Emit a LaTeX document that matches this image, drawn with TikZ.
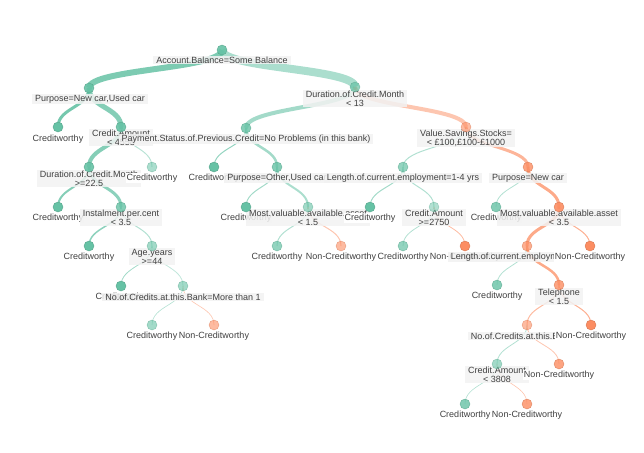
\documentclass[tikz,border=0pt]{standalone}
\usepackage{fontspec}
\setmainfont{Liberation Sans}
\usetikzlibrary{calc,backgrounds}
\definecolor{cwgreen}{HTML}{66C2A5}
\definecolor{ncorange}{HTML}{FC8D62}

\begin{document}
\begin{tikzpicture}[x=1pt,y=-1pt,
  punkt/.style={circle,minimum size=10pt,inner sep=0pt},
  ja/.style={punkt,fill=cwgreen,draw=cwgreen!85!black,line width=.4pt},
  nein/.style={punkt,fill=ncorange,draw=ncorange!85!black,line width=.4pt},
  frage/.style={fill=black!5,fill opacity=.85,text opacity=1,inner xsep=3pt,inner ysep=1pt,align=center,text=black!75,font=\fontsize{9}{9}\selectfont},
  blatt/.style={fill=white,inner xsep=1pt,inner ysep=1pt,text=black!75,font=\fontsize{9}{9}\selectfont},
  ast/.style={line cap=butt,to path={.. controls ($(\tikztostart)!.5!(\tikztostart|-\tikztotarget)$) and ($(\tikztotarget)!.5!(\tikztotarget|-\tikztostart)$) .. (\tikztotarget)}},
  gk/.style={ast,draw=cwgreen},
  ok/.style={ast,draw=ncorange}]
\useasboundingbox (0,0) rectangle (644,452);
% labels, left to right, level by level
\node [frage] (root-t) at (222,60) {Account.Balance=Some Balance};
\node [frage] (purp-t) at (90,99) {Purpose=New car,Used car};
\node [frage] (dur-t) at (355,98.5) {Duration.of.Credit.Month\\< 13};
\node [blatt] (l1-t) at (58,139) {Creditworthy};
\node [frage] (camt-t) at (121,137.5) {Credit.Amount\\< 4558};
\node [frage] (pay-t) at (246,139) {Payment.Status.of.Previous.Credit=No Problems (in this bank)};
\node [frage] (sav-t) at (466,138) {Value.Savings.Stocks=\\< £100,£100-£1000};
\node [frage] (dur2-t) at (89,178.5) {Duration.of.Credit.Month\\>=22.5};
\node [blatt] (l2-t) at (152,178) {Creditworthy};
\node [blatt] (l3-t) at (214,178) {Creditworthy};
\node [frage] (purpo-t) at (277,178) {Purpose=Other,Used car};
\node [frage] (len-t) at (403,178) {Length.of.current.employment=1-4 yrs};
\node [frage] (purpn-t) at (528,178) {Purpose=New car};
\node [blatt] (l4-t) at (58,218) {Creditworthy};
\node [frage] (inst-t) at (121,217.5) {Instalment.per.cent\\< 3.5};
\node [blatt] (l5-t) at (246,218) {Creditworthy};
\node [frage] (mva-t) at (308,217.5) {Most.valuable.available.asset\\< 1.5};
\node [blatt] (l6-t) at (370,218) {Creditworthy};
\node [frage] (camt2-t) at (434,217.5) {Credit.Amount\\>=2750};
\node [blatt] (l7-t) at (496,218) {Creditworthy};
\node [frage] (mvb-t) at (559,217.5) {Most.valuable.available.asset\\< 3.5};
\node [blatt] (l8-t) at (89,257) {Creditworthy};
\node [frage] (age-t) at (152,256.5) {Age.years\\>=44};
\node [blatt] (l9-t) at (277,257) {Creditworthy};
\node [blatt] (l10-t) at (341,257) {Non-Creditworthy};
\node [blatt] (l11-t) at (403,257) {Creditworthy};
\node [blatt] (l12-t) at (465,257) {Non-Creditworthy};
\node [frage] (len2-t) at (527,257) {Length.of.current.employment=1-4 yrs};
\node [blatt] (l13-t) at (590,257) {Non-Creditworthy};
\node [blatt] (l14-t) at (121,297) {Creditworthy};
\node [frage] (cred-t) at (183,297) {No.of.Credits.at.this.Bank=More than 1};
\node [blatt] (l15-t) at (497,296) {Creditworthy};
\node [frage] (tel-t) at (559,296.5) {Telephone\\< 1.5};
\node [blatt] (l16-t) at (152,336) {Creditworthy};
\node [blatt] (l17-t) at (214,336) {Non-Creditworthy};
\node [frage] (cred2-t) at (527,336) {No.of.Credits.at.this.Bank=1};
\node [blatt] (l18-t) at (591,336) {Non-Creditworthy};
\node [frage] (camt3-t) at (497,374.5) {Credit.Amount\\< 3808};
\node [blatt] (l19-t) at (559,375) {Non-Creditworthy};
\node [blatt] (l20-t) at (465,415) {Creditworthy};
\node [blatt] (l21-t) at (527,415) {Non-Creditworthy};
% nodes
\node [ja,opacity=.9] (root) at (222,50) {};
\node [ja,opacity=.9] (purp) at (89,88) {};
\node [ja,opacity=.7] (dur) at (355,87) {};
\node [ja] (l1) at (58,127) {};
\node [ja,opacity=.9] (camt) at (121,127) {};
\node [ja,opacity=.8] (pay) at (246,128) {};
\node [nein,opacity=.6] (sav) at (466,127) {};
\node [ja,opacity=.9] (dur2) at (89,167) {};
\node [ja,opacity=.55] (l2) at (152,167) {};
\node [ja] (l3) at (214,167) {};
\node [ja,opacity=.8] (purpo) at (277,167) {};
\node [ja,opacity=.7] (len) at (403,167) {};
\node [nein,opacity=.8] (purpn) at (528,167) {};
\node [ja] (l4) at (58,207) {};
\node [ja,opacity=.8] (inst) at (121,207) {};
\node [ja] (l5) at (246,207) {};
\node [ja,opacity=.6] (mva) at (308,207) {};
\node [ja] (l6) at (370,207) {};
\node [ja,opacity=.5] (camt2) at (434,207) {};
\node [ja,opacity=.8] (l7) at (496,207) {};
\node [nein,opacity=.9] (mvb) at (559,207) {};
\node [ja] (l8) at (89,246) {};
\node [ja,opacity=.6] (age) at (152,246) {};
\node [ja,opacity=.7] (l9) at (277,246) {};
\node [nein,opacity=.6] (l10) at (341,246) {};
\node [ja,opacity=.7] (l11) at (403,246) {};
\node [nein] (l12) at (465,246) {};
\node [nein,opacity=.7] (len2) at (527,246) {};
\node [nein] (l13) at (590,246) {};
\node [ja] (l14) at (121,286) {};
\node [ja,opacity=.6] (cred) at (183,286) {};
\node [ja,opacity=.8] (l15) at (497,285) {};
\node [nein,opacity=.8] (tel) at (559,285) {};
\node [ja,opacity=.6] (l16) at (152,325) {};
\node [nein,opacity=.6] (l17) at (214,325) {};
\node [nein,opacity=.6] (cred2) at (527,325) {};
\node [nein] (l18) at (591,325) {};
\node [ja,opacity=.6] (camt3) at (497,364) {};
\node [nein,opacity=.8] (l19) at (559,364) {};
\node [ja,opacity=.8] (l20) at (465,404) {};
\node [nein,opacity=.8] (l21) at (527,404) {};
% branches
\begin{pgfonlayer}{background}
\draw [gk,line width=6pt,draw opacity=.85] (root.center) to (purp.center);
\draw [gk,line width=8pt,draw opacity=.55] (root.center) to (dur.center);
\draw [gk,line width=3pt,draw opacity=.9] (purp.center) to (l1.center);
\draw [gk,line width=5pt,draw opacity=.8] (purp.center) to (camt.center);
\draw [gk,line width=4pt,draw opacity=.6] (dur.center) to (pay.center);
\draw [ok,line width=4pt,draw opacity=.5] (dur.center) to (sav.center);
\draw [gk,line width=4pt,draw opacity=.8] (camt.center) to (dur2.center);
\draw [gk,line width=1pt,draw opacity=.45] (camt.center) to (l2.center);
\draw [gk,line width=1pt,draw opacity=.7] (pay.center) to (l3.center);
\draw [gk,line width=2.5pt,draw opacity=.6] (pay.center) to (purpo.center);
\draw [gk,line width=1pt,draw opacity=.5] (sav.center) to (len.center);
\draw [ok,line width=3pt,draw opacity=.65] (sav.center) to (purpn.center);
\draw [gk,line width=2pt,draw opacity=.8] (dur2.center) to (l4.center);
\draw [gk,line width=3pt,draw opacity=.75] (dur2.center) to (inst.center);
\draw [gk,line width=1pt,draw opacity=.6] (purpo.center) to (l5.center);
\draw [gk,line width=2pt,draw opacity=.55] (purpo.center) to (mva.center);
\draw [gk,line width=1pt,draw opacity=.6] (len.center) to (l6.center);
\draw [gk,line width=1pt,draw opacity=.5] (len.center) to (camt2.center);
\draw [gk,line width=.8pt,draw opacity=.5] (purpn.center) to (l7.center);
\draw [ok,line width=3pt,draw opacity=.75] (purpn.center) to (mvb.center);
\draw [gk,line width=1.5pt,draw opacity=.75] (inst.center) to (l8.center);
\draw [gk,line width=1pt,draw opacity=.5] (inst.center) to (age.center);
\draw [gk,line width=1pt,draw opacity=.5] (mva.center) to (l9.center);
\draw [ok,line width=1pt,draw opacity=.5] (mva.center) to (l10.center);
\draw [gk,line width=.8pt,draw opacity=.5] (camt2.center) to (l11.center);
\draw [ok,line width=.8pt,draw opacity=.6] (camt2.center) to (l12.center);
\draw [ok,line width=3pt,draw opacity=.75] (mvb.center) to (len2.center);
\draw [ok,line width=1pt,draw opacity=.7] (mvb.center) to (l13.center);
\draw [gk,line width=.8pt,draw opacity=.6] (age.center) to (l14.center);
\draw [gk,line width=.8pt,draw opacity=.4] (age.center) to (cred.center);
\draw [gk,line width=.8pt,draw opacity=.5] (len2.center) to (l15.center);
\draw [ok,line width=2.5pt,draw opacity=.75] (len2.center) to (tel.center);
\draw [gk,line width=.6pt,draw opacity=.5] (cred.center) to (l16.center);
\draw [ok,line width=.6pt,draw opacity=.5] (cred.center) to (l17.center);
\draw [ok,line width=1pt,draw opacity=.6] (tel.center) to (cred2.center);
\draw [ok,line width=1pt,draw opacity=.7] (tel.center) to (l18.center);
\draw [gk,line width=.8pt,draw opacity=.5] (cred2.center) to (camt3.center);
\draw [ok,line width=.8pt,draw opacity=.5] (cred2.center) to (l19.center);
\draw [gk,line width=.6pt,draw opacity=.5] (camt3.center) to (l20.center);
\draw [ok,line width=.6pt,draw opacity=.5] (camt3.center) to (l21.center);
\end{pgfonlayer}
\end{tikzpicture}
\end{document}
